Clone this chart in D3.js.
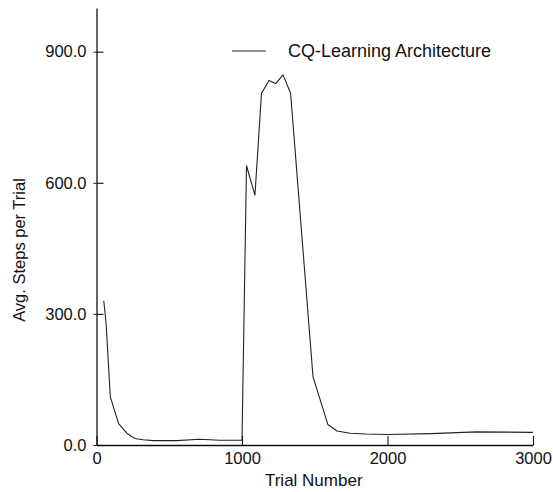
<!DOCTYPE html>
<html>
<head>
<meta charset="utf-8">
<script src="https://cdn.jsdelivr.net/npm/d3@7"></script>
<style>
  html, body { margin: 0; padding: 0; background: #fff; }
  svg { display: block; }
  text { font-family: "Liberation Sans", Arial, Helvetica, sans-serif; fill: #111; }
</style>
</head>
<body>
<svg id="chart" width="553" height="492"></svg>
<script>
// ---- data ----
const trials = [50, 66, 95, 152, 209, 243, 266, 320, 390, 550, 708, 850, 1000,
                1031, 1089, 1134, 1186, 1232, 1282, 1334, 1488, 1590, 1652, 1743,
                1850, 2000, 2300, 2609, 3000];
const steps  = [330, 278, 110, 49, 27, 19, 15, 12, 10, 10, 13, 11, 11,
                639, 572, 805, 834, 827, 847, 805, 156, 47, 32, 27,
                25, 24, 26, 30, 29];
const xTickValues = [0, 1000, 2000, 3000];
const xTickLabels = ["0", "1000", "2000", "3000"];
const yTickValues = [0, 300, 600, 900];
const yTickLabels = ["0.0", "300.0", "600.0", "900.0"];
const seriesName = "CQ-Learning Architecture";
const xTitle = "Trial Number";
const yTitle = "Avg. Steps per Trial";

// ---- layout ----
const svg = d3.select("#chart");
const x = d3.scaleLinear().domain([0, 3000]).range([96.5, 533]);
const y = d3.scaleLinear().domain([0, 1000]).range([445, 8]);

// y axis
const yAxis = d3.axisLeft(y)
  .tickValues(yTickValues)
  .tickFormat((d, i) => yTickLabels[i])
  .tickSizeInner(-7).tickSizeOuter(0).tickPadding(10);
const gy = svg.append("g").attr("transform", `translate(${x(0)},0)`).call(yAxis);
gy.select(".domain").attr("stroke", "#111").attr("stroke-width", 1.3);
gy.selectAll(".tick line").attr("stroke", "#111").attr("stroke-width", 1.1);
gy.selectAll(".tick").append("line").attr("x1", -3).attr("x2", 0).attr("stroke", "#111");
gy.selectAll(".tick text").attr("font-size", 16.5).style("font-family", "Liberation Sans, Arial, sans-serif").attr("fill", "#111");

// x axis
const xAxis = d3.axisBottom(x)
  .tickValues(xTickValues)
  .tickFormat((d, i) => xTickLabels[i])
  .tickSizeInner(-9).tickSizeOuter(0).tickPadding(7);
const gx = svg.append("g").attr("transform", `translate(0,${y(0)})`).call(xAxis);
gx.select(".domain").attr("stroke", "#111").attr("stroke-width", 1.3);
gx.selectAll(".tick line").attr("stroke", "#111").attr("stroke-width", 1.1);
gx.selectAll(".tick text").attr("font-size", 16.5).style("font-family", "Liberation Sans, Arial, sans-serif").attr("fill", "#111");

// line
const data = trials.map((t, i) => ({ t, v: steps[i] }));
const line = d3.line().x(d => x(d.t)).y(d => y(d.v));
svg.append("path")
  .datum(data)
  .attr("fill", "none")
  .attr("stroke", "#222")
  .attr("stroke-width", 1.1)
  .attr("stroke-linejoin", "round")
  .attr("d", line);

// axis titles
svg.append("text")
  .attr("x", (x(0) + x(3000)) / 2 - 1)
  .attr("y", 486)
  .attr("text-anchor", "middle")
  .attr("font-size", 17)
  .text(xTitle);

svg.append("text")
  .attr("transform", "translate(25,250) rotate(-90)")
  .attr("text-anchor", "middle")
  .attr("font-size", 16.5)
  .text(yTitle);

// legend
svg.append("line")
  .attr("x1", 232).attr("x2", 266)
  .attr("y1", 51).attr("y2", 51)
  .attr("stroke", "#222").attr("stroke-width", 1.1);
svg.append("text")
  .attr("x", 288).attr("y", 57)
  .attr("font-size", 18)
  .text(seriesName);
</script>
</body>
</html>
